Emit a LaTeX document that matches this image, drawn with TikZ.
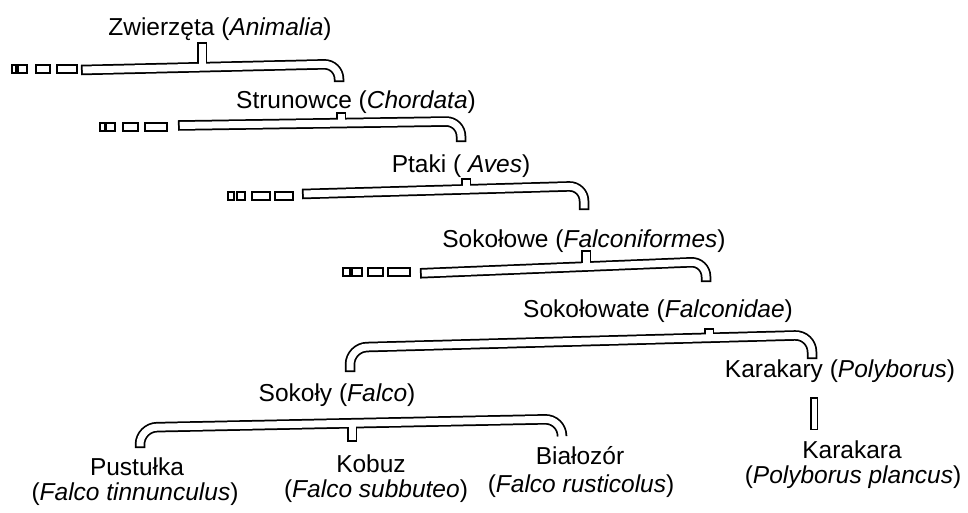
\documentclass[tikz,border=0pt]{standalone}
\usepackage{fontspec}
\setmainfont{Liberation Sans}
\usetikzlibrary{calc}
\begin{document}
\begin{tikzpicture}[x=1pt,y=-1pt,
  tubeedge/.style={line width=10.5pt, draw=black},
  tubehole/.style={line width=7pt, draw=white},
  thinedge/.style={line width=8pt, draw=black},
  thinhole/.style={line width=5pt, draw=white},
  gapbox/.style={draw=black, line width=1.4pt, fill=white},
  lbl/.style={anchor=base, inner sep=0pt, font=\fontsize{24.5}{28}\selectfont}]
\fill[white] (0,0) rectangle (968,512);
\useasboundingbox (0,0) rectangle (968,512);

% ---- labels ----
\node[lbl] (animalia)  at (220,35)  {Zwierzęta (\textit{Animalia})};
\node[lbl] (chordata)  at (356,108) {Strunowce (\textit{Chordata})};
\node[lbl] (aves)      at (461,172) {Ptaki ( \textit{Aves})};
\node[lbl] (falconif)  at (584,247) {Sokołowe (\textit{Falconiformes})};
\node[lbl] (falconid)  at (658,317) {Sokołowate (\textit{Falconidae})};
\node[lbl] (falco)     at (337,401) {Sokoły (\textit{Falco})};
\node[lbl] (polyborus) at (840,377) {Karakary (\textit{Polyborus})};
\node[lbl] (pust)      at (137,475) {Pustułka};
\node[lbl] (pustlat)   at (135,500) {(\textit{Falco tinnunculus})};
\node[lbl] (kobuz)     at (371,472) {Kobuz};
\node[lbl] (kobuzlat)  at (376,497) {(\textit{Falco subbuteo})};
\node[lbl] (bialo)     at (580,464) {Białozór};
\node[lbl] (bialolat)  at (581,492) {(\textit{Falco rusticolus})};
\node[lbl] (karakara)  at (852,458) {Karakara};
\node[lbl] (karalat)   at (853,483) {(\textit{Polyborus plancus})};

% ---- joints of the upper ranks: left end, corner, leg end, stub base, stub top ----
\foreach \i/\L/\yL/\R/\yR/\B/\sx/\sy/\st in {
    1/81/70/339/64/82/202/67.2/42,
    2/178/125.5/461/121.3/142/341/123.1/112,
    3/302/194/584/186/210/466/189.3/178,
    4/420/273.3/706/261.7/282/586/266.6/250}{
  \coordinate (a\i) at (\L,\yL);
  \coordinate (b\i) at (\R,\yR);
  \coordinate (c\i) at (\R,\B);
  \coordinate (j\i) at (\sx,\sy);
  \coordinate (t\i) at (\sx,\st);
}
% family and genus brackets
\coordinate (fl) at (350,372);  \coordinate (fla) at (350,347.5);
\coordinate (fr) at (812,359);  \coordinate (fra) at (812,335);
\coordinate (fj) at (709,337.8); \coordinate (ft) at (709,328);
\coordinate (gl) at (140,448);  \coordinate (gla) at (140,427.5);
\coordinate (gr) at (562,435);  \coordinate (gra) at (562,419);
\coordinate (gj) at (352,423.2); \coordinate (gt) at (352,442);
\coordinate (kt) at (814,397);  \coordinate (kb) at (814,430);

% ---- tubes: black body first ----
\foreach \i in {1,...,4}{
  \draw[tubeedge, rounded corners=15pt] (a\i) -- (b\i) -- (c\i);
  \draw[tubeedge] (j\i) -- (t\i);
}
\draw[tubeedge, rounded corners=17pt] (fl) -- (fla) -- (fra) -- (fr);
\draw[tubeedge] (fj) -- (ft);
\draw[tubeedge, rounded corners=17pt] (gl) -- (gla) -- (gra) -- (gr);
\draw[tubeedge] (gj) -- (gt);
\draw[thinedge] (kt) -- (kb);

% ---- then the hollow inside ----
\foreach \i in {1,...,4}{
  \draw[tubehole, rounded corners=15pt, shorten <=1.75pt, shorten >=1.75pt] (a\i) -- (b\i) -- (c\i);
  \draw[tubehole, shorten >=1.75pt] (j\i) -- (t\i);
}
\draw[tubehole, rounded corners=17pt, shorten <=1.75pt, shorten >=1.75pt] (fl) -- (fla) -- (fra) -- (fr);
\draw[tubehole, shorten >=1.75pt] (fj) -- (ft);
\draw[tubehole, rounded corners=17pt, shorten <=1.75pt, shorten >=1.75pt] (gl) -- (gla) -- (gra) -- (gr);
\draw[tubehole, shorten >=1.75pt] (gj) -- (gt);
\draw[thinhole, shorten <=1.5pt, shorten >=1.5pt] (kt) -- (kb);

% ---- broken continuation of the upper ranks ----
\foreach \x/\w/\y in {12/4/69, 18/9/69, 36/14/69, 57/20/69,
                      100/5/127, 106/9/127, 123/15/127, 145/22/127,
                      228/6/196, 237/8/196, 252/18/196, 275/18/196,
                      343/7/272, 352/10/272, 368/15/272, 388/22/272}{
  \draw[gapbox] (\x,\y-4) rectangle ++(\w,8);
}
\end{tikzpicture}
\end{document}
